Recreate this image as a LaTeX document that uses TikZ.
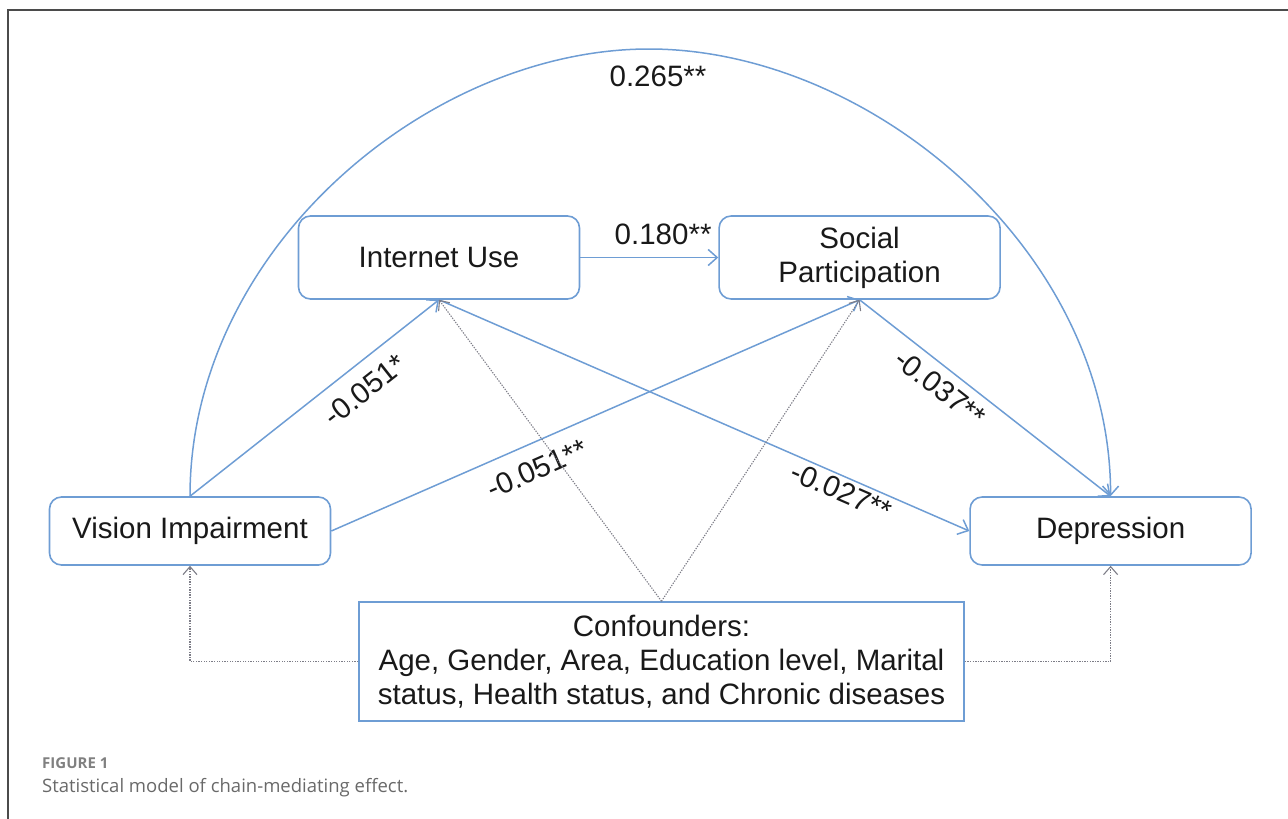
\documentclass[tikz,border=0pt]{standalone}
\usepackage{fontspec}
\setmainfont{Liberation Sans}
\newfontfamily\captionfont{Open Sans}
\usetikzlibrary{positioning, arrows.meta}
\definecolor{pathblue}{RGB}{110,157,212}
\definecolor{dotgray}{RGB}{125,125,135}
\definecolor{framegray}{RGB}{75,75,75}
\definecolor{capgray}{RGB}{105,105,105}
\tikzset{node distance=138pt, % gap between the two mediators
var/.style={ % rounded boxes for the model variables
draw=pathblue, line width=1.6pt, rounded corners=12pt,
minimum width=281pt, align=center, text=black!90,
font=\fontsize{29.5}{34}\selectfont},
coef/.style={ % path coefficients
font=\fontsize{29.5}{34}\selectfont, text=black!90},
effect/.style={ % blue paths of the model
draw=pathblue, line width=1.5pt, -{Straight Barb[length=9pt,width=16pt]}},
control/.style={ % dotted paths from the covariates
draw=dotgray, line width=1.1pt, dash pattern=on 1.3pt off 1.3pt,
-{Straight Barb[length=8pt,width=14pt]}}}

\begin{document}
\begin{tikzpicture}[x=1pt, y=-1pt]
    \useasboundingbox (0,0) rectangle (1288,819);
    \draw[framegray, line width=2.5pt] (1288,10) -- (8,10) -- (8,819);

    \node[var, minimum height=68pt] (vision) at (190,531) {Vision Impairment};
    \node[var, minimum height=68pt, right=638pt of vision] (depression) {Depression};
    \node[var, minimum height=83pt] (internet) at (439,257.5) {Internet Use};
    \node[var, minimum height=83pt, right=of internet] (social) {Social\\Participation};
    \node[draw=pathblue, line width=1.6pt, minimum width=605pt, minimum height=119pt,
          align=center, text=black!90, font=\fontsize{29.5}{34}\selectfont]
          (confounders) at (661.5,661.5)
          {Confounders:\\Age, Gender, Area, Education level, Marital\\status, Health status, and Chronic diseases};
    \coordinate (apex) at (649,49);

    \draw[effect] (vision.north) .. controls +(0,-247) and +(-220,0) .. (apex)
        node[coef, below=13pt, xshift=9pt] {0.265**}
        .. controls +(220,0) and +(0,-247) .. (depression.north);
    \draw[effect] (internet.east) -- node[coef, above=9pt, pos=0.6] {0.180**} (social.west);
    \draw[effect] (vision.north) -- node[coef, sloped, below, outer ysep=11pt, pos=0.64] {-0.051*} (internet.south);
    \draw[effect] (vision.east) -- node[coef, sloped, below, outer ysep=12pt, pos=0.37] {-0.051**} (social.south);
    \draw[effect] (internet.south) -- node[coef, sloped, below, pos=0.77] {-0.027**} (depression.west);
    \draw[effect] (social.south) -- node[coef, sloped, below, outer ysep=6pt, pos=0.37] {-0.037**} (depression.north);

    \draw[control] (confounders.north) -- (internet.south);
    \draw[control] (confounders.north) -- (social.south);
    \draw[control] (confounders.west) -| (vision.south);
    \draw[control] (confounders.east) -| (depression.south);

    \node[anchor=base west, inner sep=0, text=capgray!85,
          font=\captionfont\fontsize{15}{18}\selectfont\bfseries] (figno) at (42,768) {FIGURE 1};
    \node[anchor=base west, inner sep=0, text=capgray,
          font=\captionfont\fontsize{18.5}{22}\selectfont] (caption) at (42,792)
          {Statistical model of chain-mediating effect.};
\end{tikzpicture}
\end{document}
